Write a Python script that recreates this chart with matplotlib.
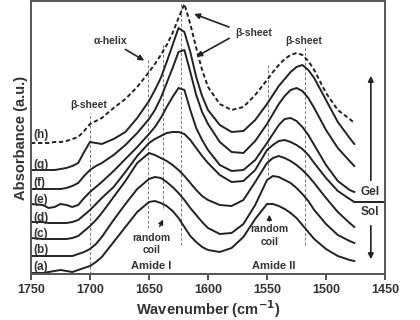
import numpy as np
import matplotlib.pyplot as plt

plt.rcParams['font.family'] = ['Liberation Sans', 'DejaVu Sans']

wavenumber = [1750, 1740, 1735, 1730, 1725, 1720, 1715, 1710, 1705, 1700,
              1695, 1690, 1680, 1670, 1660, 1650, 1645, 1640, 1635, 1630,
              1625, 1620, 1615, 1610, 1605, 1600, 1590, 1580, 1570, 1560,
              1550, 1545, 1540, 1535, 1530, 1525, 1520, 1515, 1510, 1500,
              1490, 1480, 1476]

# stacked spectra (a.u., offsets included), bottom (a) to top (h)
spec_a = [1, 1, 2, 3, 4, 3, 2, 4, 6, 8, 12, 17, 32, 47, 62, 72, 73, 71, 68, 63,
          56, 47, 38, 32, 27, 24, 22, 26, 37, 55, 70, 70, 68, 65, 61, 56, 49, 42, 35, 25,
          18, 14, 13]
spec_b = [18, 18, 18, 18, 18, 18, 18, 20, 22, 25, 30, 37, 54, 70, 85, 95, 97, 96, 92, 87,
          81, 74, 66, 59, 52, 46, 40, 41, 50, 69, 94, 98, 97, 94, 91, 86, 80, 73, 64, 50,
          39, 33, 31]
spec_c = [36, 35, 35, 35, 35, 35, 36, 38, 43, 48, 54, 61, 77, 93, 111, 121, 119, 116, 113, 109,
          104, 98, 91, 84, 78, 74, 69, 68, 74, 92, 111, 116, 118, 116, 113, 109, 104, 98, 91, 76,
          62, 51, 47]
spec_d = [52, 52, 51, 51, 51, 51, 52, 54, 59, 64, 70, 76, 87, 102, 118, 131, 135, 138, 141, 142,
          142, 140, 134, 126, 118, 111, 99, 92, 93, 104, 124, 129, 133, 134, 132, 129, 125, 119, 111, 96,
          83, 75, 72]
spec_e = [70, 69, 66, 67, 70, 69, 67, 69, 76, 82, 87, 92, 103, 115, 127, 140, 147, 156, 167, 177,
          186, 184, 164, 146, 134, 124, 109, 103, 104, 114, 131, 140, 149, 155, 156, 153, 147, 139, 129, 109,
          93, 84, 82]
spec_f = [85, 85, 85, 85, 85, 86, 88, 91, 98, 104, 108, 111, 119, 129, 141, 155, 164, 176, 191, 206,
          222, 224, 202, 179, 162, 150, 132, 122, 121, 133, 150, 160, 170, 178, 184, 186, 183, 176, 166, 144,
          126, 113, 108]
spec_g = [104, 104, 104, 104, 105, 106, 108, 111, 122, 132, 131, 130, 135, 142, 156, 173, 184, 196, 212, 229,
          246, 242, 222, 197, 178, 164, 149, 142, 143, 154, 170, 179, 188, 195, 202, 207, 209, 204, 196, 174,
          152, 136, 130]
spec_h = [131, 131, 131, 132, 132, 133, 135, 137, 143, 150, 153, 156, 166, 175, 187, 202, 210, 219, 229, 241,
          256, 270, 250, 226, 204, 187, 170, 164, 167, 179, 194, 202, 209, 215, 219, 221, 219, 213, 204, 181,
          164, 155, 151]

labels = ['(a)', '(b)', '(c)', '(d)', '(e)', '(f)', '(g)', '(h)']
label_y = [7, 24, 40, 56, 74, 91, 109, 139]

# band positions marked with dashed lines: (wavenumber, bottom, top)
band_lines = [(1700, 0, 161), (1651, 46, 216), (1638, 66, 231),
              (1623, 29, 271), (1549, 99, 209), (1518, 29, 227)]

ink = '#222222'
txt = '#333333'

fig = plt.figure(figsize=(4.2, 3.2), dpi=100)
ax = fig.add_axes([31 / 420, 46 / 320, 354 / 420, 273 / 320])

for wn, y0, y1 in band_lines:
    ax.plot([wn, wn], [y0, y1], color='#777777', lw=0.7, ls=(0, (3, 2)))

for s in [spec_a, spec_b, spec_c, spec_d, spec_e, spec_f, spec_g]:
    ax.plot(wavenumber, s, color=ink, lw=1.4, solid_joinstyle='round')
ax.plot(wavenumber, spec_h, color=ink, lw=1.4, ls=(0, (2.2, 1.4)))

for lab, yy in zip(labels, label_y):
    ax.text(1748, yy, lab, fontsize=8.5, fontweight='bold', color=txt, va='center', ha='left')

fs = 7.5
ax.text(1683, 233, '\u03b1-helix', fontsize=fs, fontweight='bold', color=txt, ha='center', va='center')
ax.annotate('', xy=(1652, 212), xytext=(1672, 226),
            arrowprops=dict(arrowstyle='-|>', color=ink, lw=1.2, mutation_scale=8))
ax.text(1701, 169, '\u03b2-sheet', fontsize=fs, fontweight='bold', color=txt, ha='center', va='center')
ax.text(1561, 241, '\u03b2-sheet', fontsize=fs, fontweight='bold', color=txt, ha='center', va='center')
ax.annotate('', xy=(1614, 261), xytext=(1580, 246),
            arrowprops=dict(arrowstyle='-|>', color=ink, lw=1.2, mutation_scale=8))
ax.annotate('', xy=(1612, 216), xytext=(1580, 237),
            arrowprops=dict(arrowstyle='-|>', color=ink, lw=1.2, mutation_scale=8))
ax.text(1519, 233, '\u03b2-sheet', fontsize=fs, fontweight='bold', color=txt, ha='center', va='center')

ax.text(1648, 36, 'random', fontsize=fs, fontweight='bold', color=txt, ha='center', va='center')
ax.text(1648, 24, 'coil', fontsize=fs, fontweight='bold', color=txt, ha='center', va='center')
ax.annotate('', xy=(1637, 57), xytext=(1642, 45),
            arrowprops=dict(arrowstyle='-|>', color=ink, lw=1.0, mutation_scale=7))
ax.text(1648, 8, 'Amide I', fontsize=8, fontweight='bold', color=txt, ha='center', va='center')

ax.text(1548, 45, 'random', fontsize=fs, fontweight='bold', color=txt, ha='center', va='center')
ax.text(1548, 32, 'coil', fontsize=fs, fontweight='bold', color=txt, ha='center', va='center')
ax.annotate('', xy=(1548, 62), xytext=(1548, 50),
            arrowprops=dict(arrowstyle='-|>', color=ink, lw=1.0, mutation_scale=7))
ax.text(1544, 8, 'Amide II', fontsize=8, fontweight='bold', color=txt, ha='center', va='center')

# gel / sol marker on the right
ax.plot([1475, 1450], [72, 72], color=ink, lw=1.4)
ax.text(1463, 82, 'Gel', fontsize=8.5, fontweight='bold', color=txt, ha='center', va='center')
ax.text(1463, 62, 'Sol', fontsize=8.5, fontweight='bold', color=txt, ha='center', va='center')
ax.annotate('', xy=(1462, 201), xytext=(1462, 91),
            arrowprops=dict(arrowstyle='-|>', color=ink, lw=1.2, mutation_scale=8))
ax.annotate('', xy=(1462, 12), xytext=(1462, 51),
            arrowprops=dict(arrowstyle='-|>', color=ink, lw=1.2, mutation_scale=8))

ax.set_xlim(1750, 1450)
ax.set_ylim(0, 273)
ax.set_xticks([1750, 1700, 1650, 1600, 1550, 1500, 1450])
ax.set_yticks([])
ax.tick_params(axis='x', direction='out', length=4, width=1.2, colors=txt, labelsize=9, pad=3)
for lab in ax.get_xticklabels():
    lab.set_fontweight('bold')
for sp in ax.spines.values():
    sp.set_linewidth(1.4)
    sp.set_color('#555555')

ax.set_xlabel(r'Wavenumber (cm$^{\mathbf{-1}}$)', fontsize=10.5, fontweight='bold', color=txt, labelpad=2)
ax.set_ylabel('Absorbance (a.u.)', fontsize=10.5, fontweight='bold', color=txt, labelpad=2)

fig.savefig('out.png', dpi=100)
